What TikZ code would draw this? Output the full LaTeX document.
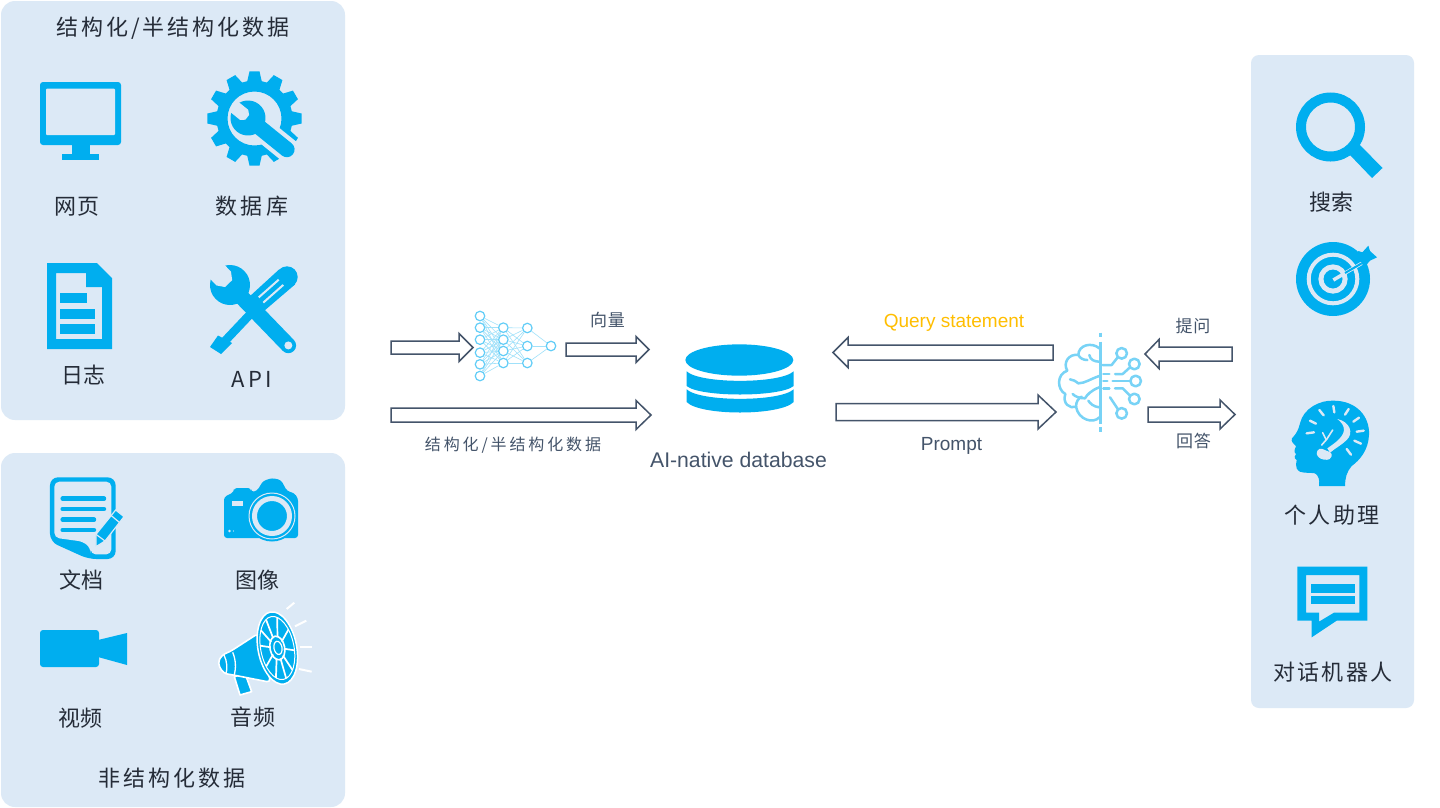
\documentclass[tikz,border=0pt]{standalone}
\usepackage{fontspec}
\setmainfont{Liberation Sans}
\newfontfamily\cjk{Noto Sans CJK SC}
\usetikzlibrary{calc}
\definecolor{panelc}{HTML}{DCE9F6}
\definecolor{iconc}{HTML}{00AEEF}
\definecolor{arrowc}{HTML}{44546A}
\definecolor{nnc}{HTML}{62CDF7}
\definecolor{nnl}{HTML}{A0E1FA}
\definecolor{brainc}{HTML}{78D3F6}
\definecolor{darkc}{HTML}{252C38}
\definecolor{queryc}{HTML}{FFBE00}
\newcommand\zh[2]{{\addfontfeature{LetterSpace=#1}#2}}
\tikzset{
  panel/.style={fill=panelc,draw=none,rounded corners=#1},
  icon/.style={fill=iconc,draw=none},
  gap/.style={fill=panelc,draw=none},
  gapline/.style={draw=panelc},
  lab/.style={inner sep=0pt,text=darkc,font=\cjk\fontsize{22}{24}\selectfont},
  sublab/.style={inner sep=0pt,text=arrowc,font=\cjk\fontsize{#1}{20}\selectfont},
  enlab/.style={inner sep=0pt,text=arrowc,font=\fontsize{#1}{24}\selectfont},
  zoomed/.style={x=0.33333pt,y=-0.33333pt},
  blockarrow/.style n args={3}{draw=arrowc,line width=1.5pt,fill=white,miter limit=10,
    to path={let \p1=(\tikztostart),\p2=(\tikztotarget) in
      (\x1,{\y1+#1pt}) -- ({\x2-(#3pt)},{\y1+#1pt}) -- ({\x2-(#3pt)},{\y1+#2pt}) -- (\x2,\y1)
      -- ({\x2-(#3pt)},{\y1-#2pt}) -- ({\x2-(#3pt)},{\y1-#1pt}) -- (\x1,{\y1-#1pt}) -- cycle}},
  neuron/.style={circle,draw=nnc,fill=white,line width=1.2pt,minimum size=9.5pt,inner sep=0pt},
  nnedge/.style={draw=nnl,line width=0.6pt},
  brainline/.style={draw=brainc,line width=2.5pt,line cap=round,line join=round},
}
\begin{document}
\begin{tikzpicture}[x=1pt,y=-1pt]
\useasboundingbox (0,0) rectangle (1440,807);
\fill[white] (0,0) rectangle (1440,807);
% panels
\path[panel=14pt] (1,1) rectangle (345,420);
\path[panel=14pt] (1,453) rectangle (345,807);
\path[panel=8pt] (1251,55) rectangle (1414,708);

% ---- monitor
\path[icon,rounded corners=3pt] (40,82) rectangle (121,145);
\path[gap,rounded corners=1pt] (46,88.5) rectangle (115,135);
\path[icon] (72,144) rectangle (90,154.5);
\path[icon] (62,154) rectangle (99,160);

% ---- gear + wrench
\fill[iconc,even odd rule]
  (254.5,118.5) circle (27)
  ({254.5+38*cos(-11)},{118.5+38*sin(-11)})
  \foreach \a in {0,30,...,330}{
    -- ({254.5+38*cos(\a-11)},{118.5+38*sin(\a-11)})
    -- ({254.5+47.5*cos(\a-6)},{118.5+47.5*sin(\a-6)})
    -- ({254.5+47.5*cos(\a+6)},{118.5+47.5*sin(\a+6)})
    -- ({254.5+38*cos(\a+11)},{118.5+38*sin(\a+11)})
  } -- cycle;
\begin{scope}[shift={(248,118)},rotate=-39]
  \draw[gapline,line width=24pt] (8,0) -- (64,0);
  \path[icon] (0,0) circle (17.5);
  \draw[iconc,line width=15.5pt,line cap=round] (0,0) -- (50,0);
  \path[gap] (-19,-6.5) -- (-5,-6.5) -- (-1,-3) -- (-1,3) -- (-5,6.5) -- (-19,6.5) -- cycle;
\end{scope}

% ---- log document
\fill[iconc,even odd rule] (47,263) -- (97,263) -- (112,278) -- (112,349) -- (47,349) -- cycle
  (56,273) -- (86,273) -- (86,287) -- (102,287) -- (102,339) -- (56,339) -- cycle;
\path[icon] (60,293) rectangle (87,303);
\path[icon] (60,309) rectangle (95,319);
\path[icon] (60,324) rectangle (95,334);

% ---- tools (API)
\path[icon] (210,347) -- (218,335.5) -- (232,343) -- (221,354) -- cycle;
\draw[iconc,line width=8.5pt] (224,342) -- (258,306);
\path[icon] (287,277) circle (10.7);
\path[icon] (249,297) -- (278.8,269.7) -- (295.2,284.3) -- (264,311) -- cycle;
\draw[panelc,line width=2pt] (258.7,297.4) -- (278.7,279.7);
\draw[panelc,line width=2pt] (263.3,302.6) -- (283.3,284.9);
\begin{scope}[shift={(230,285)},rotate=-46]
  \path[icon] (0,0) circle (20);
  \draw[iconc,line width=15.5pt,line cap=round] (0,0) -- (84,0);
  \path[gap] (-24,-10) -- (-9,-10) -- (-2,-5) -- (-2,5) -- (-9,10) -- (-24,10) -- cycle;
  \path[gap] (84,0) circle (4);
\end{scope}

% ---- note + pencil
\begin{scope}[shift={(0,445)},zoomed]
  \path[icon,rounded corners=8pt] (150,290) -- (150,97) -- (347,97) -- (347,342) -- (265,342) -- cycle;
  \path[gap,rounded corners=5pt] (163,278) -- (163,110) -- (334,110) -- (334,328) -- (272,328) -- (272,310) -- (250,290) -- cycle;
  \draw[iconc,line width=4.5pt,line cap=round] (188,161) -- (312,161);
  \draw[iconc,line width=4.5pt,line cap=round] (188,192) -- (312,192);
  \draw[iconc,line width=4.5pt,line cap=round] (188,224) -- (282,224);
  \draw[iconc,line width=4.5pt,line cap=round] (188,255) -- (282,255);
  \draw[panelc,line width=1.2pt,fill=iconc] (288,305) -- (288,268) -- (347,195) -- (372,215) -- (315,288) -- cycle;
  \draw[panelc,line width=1.2pt] (288,268) -- (315,288);
  \draw[panelc,line width=1.2pt] (334,212) -- (358,232);
\end{scope}

% ---- camera
\path[icon,rounded corners=3pt] (224,538) -- (224,497) -- (234,492) -- (234,488) -- (251,488) -- (251,492) -- (257,491) -- (263,481) -- (272,478) -- (281,480) -- (287,491) -- (294,493) -- (298,498) -- (298,538) -- cycle;
\path[icon] (272,516) circle (25.5);
\draw[panelc,line width=1pt] (272,516) circle (23);
\draw[panelc,line width=5pt] (272,516) circle (17.5);
\path[gap] (232,501) rectangle (243,506);
\path[gap] (229.5,531) circle (1.3);
\path[gap] (233.5,531) circle (0.6);

% ---- video
\path[icon,rounded corners=3pt] (40,630) rectangle (99,667);
\path[icon] (98,640) -- (127,633) -- (127,665) -- (98,657) -- cycle;

% ---- megaphone
\begin{scope}[shift={(0,445)},zoomed]
  \draw[white,line width=1.6pt,fill=iconc,line join=round] (703,695) -- (735,685) -- (755,740) -- (720,750) -- cycle;
  \draw[white,line width=1.6pt,fill=iconc,line join=round,rounded corners=4pt] (775,565) -- (690,620) -- (665,630) -- (653,655) -- (670,685) -- (700,690) -- (812,712) -- cycle;
  \draw[white,line width=1.3pt] (672,630) .. controls (682,650) and (682,670) .. (678,688);
  \draw[white,line width=1.3pt] (698,622) .. controls (708,645) and (708,670) .. (703,690);
  \begin{scope}[shift={(832,609)},rotate=11]
    \draw[white,line width=1.5pt,fill=iconc] (0,0) ellipse (58 and 110);
    \foreach \a in {10,50,80,115,150,190,220,250,290,330}{
      \draw[white,line width=1.7pt] ({19*cos(\a)},{33*sin(\a)}) -- ({50*cos(\a)},{96*sin(\a)});
    }
    \draw[white,line width=1.6pt] (0,0) ellipse (22 and 36);
    \draw[white,line width=1.2pt] (2,0) ellipse (12 and 20);
    \draw[white,line width=1pt] (0,0) ellipse (50 and 96);
  \end{scope}
  \draw[white,line width=2pt] (860,492) -- (883,473);
  \draw[white,line width=2pt] (885,544) -- (919,527);
  \draw[white,line width=2pt] (900,607) -- (935,607);
  \draw[white,line width=2pt] (897,672) -- (935,680);
\end{scope}

% ---- search
\draw[iconc,line width=10pt] (1330.5,127) circle (29.5);
\path[icon] (1349,154) -- (1359,144) -- (1382.5,168) -- (1372,178) -- cycle;

% ---- target
\path[icon] (1333,279) circle (37);
\draw[panelc,line width=4pt] (1333,279) circle (24.3);
\draw[panelc,line width=5pt] (1333,279) circle (12.1);
\begin{scope}[shift={(1250,50)},zoomed]
  \draw[panelc,line width=3.5pt] (250,690) -- (335,640);
  \draw[iconc,line width=2pt] (285,669) -- (335,640);
  \path[icon] (318,630) -- (325,603) -- (337,607) -- (355,587) -- (360,603) -- (381,622) -- (360,632) -- (343,652) -- (335,635) -- cycle;
\end{scope}

% ---- head + bulb
\begin{scope}[shift={(1250,380)},zoomed]
  \path[icon] (207,318) .. controls (210,300) and (205,285) .. (195,280)
    .. controls (175,275) and (150,285) .. (140,265)
    .. controls (135,258) and (140,250) .. (140,240)
    .. controls (130,235) and (135,225) .. (138,222)
    .. controls (128,215) and (137,205) .. (138,198)
    .. controls (130,190) and (122,185) .. (126,175)
    .. controls (140,160) and (145,150) .. (150,130)
    .. controls (160,85) and (210,60) .. (250,62)
    .. controls (320,62) and (360,110) .. (357,165)
    .. controls (355,210) and (330,240) .. (305,258)
    .. controls (290,275) and (285,295) .. (285,318) -- cycle;
  \foreach \p/\q in {{170,160}/{192,157},{180,122}/{198,131},{208,90}/{221,106},{250,78}/{253,97},{296,87}/{285,104},{327,113}/{310,125},{341,152}/{320,155},{333,191}/{313,182},{303,224}/{290,207}}{
    \draw[panelc,line width=2.4pt,line cap=round] (\p) -- (\q);
  }
  \path[gap] (262,117) .. controls (300,125) and (312,160) .. (290,180)
    .. controls (275,195) and (255,205) .. (240,218) -- (232,205)
    .. controls (245,195) and (280,175) .. (282,150)
    .. controls (282,135) and (272,125) .. (262,117) -- cycle;
  \draw[panelc,line width=1.6pt,line cap=round] (218,158) -- (228,178);
  \draw[panelc,line width=1.6pt,line cap=round] (248,150) -- (230,178) -- (215,195);
  \path[gap,rounded corners=3pt] (208,203) -- (248,220) -- (240,240) -- (212,238) -- (197,222) -- cycle;
\end{scope}

% ---- chat
\begin{scope}[shift={(1250,380)},zoomed]
  \fill[iconc,even odd rule] (142,560) -- (352,560) -- (352,722) -- (260,722) -- (185,772) -- (185,722) -- (142,722) -- cycle
    (168,585) -- (328,585) -- (328,698) -- (252,698) -- (207,725) -- (207,698) -- (168,698) -- cycle;
  \path[icon] (183,612) rectangle (316,638);
  \path[icon] (183,648) rectangle (316,673);
\end{scope}

% ---- database
\begin{scope}[shift={(380,300)},zoomed]
  \path[icon] (916,180) arc[start angle=180,end angle=540,x radius=162,y radius=47];
  \path[icon] (920,214) .. controls (960,252) and (1200,252) .. (1241,214) -- (1241,258) .. controls (1200,292) and (960,292) .. (920,258) -- cycle;
  \path[icon] (920,268) .. controls (960,306) and (1200,306) .. (1241,268) -- (1241,306) .. controls (1200,348) and (960,348) .. (920,306) -- cycle;
\end{scope}

% ---- neural net
\begin{scope}[shift={(380,300)},zoomed]
  \foreach \n/\y in {1/48,2/83,3/119,4/158,5/193,6/228}{\node[neuron] (a\n) at (300,\y) {};}
  \foreach \n/\y in {1/83,2/119,3/153,4/189}{\node[neuron] (b\n) at (370,\y) {};}
  \foreach \n/\y in {1/84,2/138,3/189}{\node[neuron] (c\n) at (442,\y) {};}
  \node[neuron] (d1) at (513,138) {};
  \foreach \i in {1,...,6}{\foreach \j in {1,...,4}{\path[nnedge] (a\i) -- (b\j);}}
  \foreach \i in {1,...,4}{\foreach \j in {1,2,3}{\path[nnedge] (b\i) -- (c\j);}}
  \foreach \j in {1,2,3}{\path[nnedge] (c\j) -- (d1);}
\end{scope}

% ---- brain
\begin{scope}[shift={(830,300)},zoomed]
  \draw[brainc,line width=2.4pt] (812,98) -- (812,112);
  \draw[brainc,line width=2.4pt] (812,125) -- (812,372);
  \draw[brainc,line width=2.4pt] (812,382) -- (812,396);
  \draw[brainline] (808,145) .. controls (785,125) and (745,135) .. (745,165)
    .. controls (715,160) and (698,190) .. (712,212)
    .. controls (680,222) and (680,268) .. (706,282)
    .. controls (696,310) and (720,328) .. (738,320)
    .. controls (745,360) and (790,372) .. (808,352);
  \draw[brainline] (745,165) .. controls (750,175) and (760,180) .. (772,180);
  \draw[brainline] (778,165) .. controls (780,180) and (795,185) .. (808,185);
  \draw[brainline] (720,238) .. controls (730,238) and (738,245) .. (745,250) .. controls (765,250) and (785,235) .. (808,228);
  \draw[brainline] (808,262) .. controls (785,270) and (770,285) .. (765,295) .. controls (750,295) and (735,290) .. (728,282);
  \draw[brainline] (738,320) .. controls (738,305) and (745,295) .. (755,290);
  \draw[brainline] (808,322) .. controls (790,320) and (780,310) .. (775,302);
  \draw[brainline] (875,160) circle (16);
  \draw[brainline] (913,192) circle (16);
  \draw[brainline] (917,243) circle (16);
  \draw[brainline] (913,297) circle (16);
  \draw[brainline] (875,340) circle (16);
  \draw[brainline] (818,195) -- (845,195) -- (863,172);
  \draw[brainline] (820,222) -- (838,222);
  \draw[brainline] (855,222) -- (878,222) -- (900,202);
  \draw[brainline] (820,243) -- (832,243);
  \draw[brainline] (848,243) -- (900,243);
  \draw[brainline] (820,265) -- (838,265);
  \draw[brainline] (855,265) -- (878,265) -- (900,287);
  \draw[brainline] (840,292) -- (864,328);
\end{scope}

% ---- arrows
\coordinate (a1s) at (391,347.5);  \coordinate (a1t) at (473,347.5);
\coordinate (a2s) at (566,349.5);  \coordinate (a2t) at (649,349.5);
\coordinate (a3s) at (391,415);    \coordinate (a3t) at (651,415);
\coordinate (a4s) at (1053,352.5); \coordinate (a4t) at (833,352.5);
\coordinate (a5s) at (836,412);    \coordinate (a5t) at (1056,412);
\coordinate (a6s) at (1232,354);   \coordinate (a6t) at (1145,354);
\coordinate (a7s) at (1148,414.5); \coordinate (a7t) at (1235,414.5);
\draw[blockarrow={6.5}{14}{14}] (a1s) to (a1t);
\draw[blockarrow={6.5}{13}{13}] (a2s) to (a2t);
\draw[blockarrow={7}{14.5}{15}] (a3s) to (a3t);
\draw[blockarrow={7.5}{15}{-15}] (a4s) to (a4t);
\draw[blockarrow={8.5}{17}{18}] (a5s) to (a5t);
\draw[blockarrow={7}{14.5}{-14}] (a6s) to (a6t);
\draw[blockarrow={7.5}{14.5}{15}] (a7s) to (a7t);

% ---- panel labels
\node[lab] (t1) at (173,28) {\zh{13}{结构化/半结构化数据}};
\node[lab] (t2) at (77,207) {\zh{3}{网页}};
\node[lab] (t3) at (252,206) {\zh{14.5}{数据库}};
\node[lab] (t4) at (83.5,375) {\zh{3}{日志}};
\node[lab] (t5) at (251.5,379) {\zh{16}{API}};
\node[lab] (t6) at (81.5,580) {\zh{3}{文档}};
\node[lab] (t7) at (257.5,580) {\zh{3}{图像}};
\node[lab] (t8) at (80.5,718) {\zh{3}{视频}};
\node[lab] (t9) at (253,717) {\zh{3}{音频}};
\node[lab] (t10) at (172,778) {\zh{13.6}{非结构化数据}};
\node[lab] (t11) at (1331.5,202) {\zh{3}{搜索}};
\node[lab] (t12) at (1332,515) {\zh{10.7}{个人助理}};
\node[lab] (t13) at (1333,672) {\zh{10.7}{对话机器人}};
% ---- flow labels
\node[sublab=17] (l1) at (607.5,320) {\zh{4}{向量}};
\node[sublab=16] (l2) at (513,445) {\zh{18}{结构化/半结构化数据}};
\node[enlab=21.2] (l3) at (738.5,460) {AI-native database};
\node[enlab=19,text=queryc] (l4) at (954,323) {Query statement};
\node[enlab=19] (l5) at (951.5,446) {Prompt};
\node[sublab=17] (l6) at (1193,326) {\zh{4}{提问}};
\node[sublab=17] (l7) at (1193.5,441) {\zh{4}{回答}};
\end{tikzpicture}
\end{document}
